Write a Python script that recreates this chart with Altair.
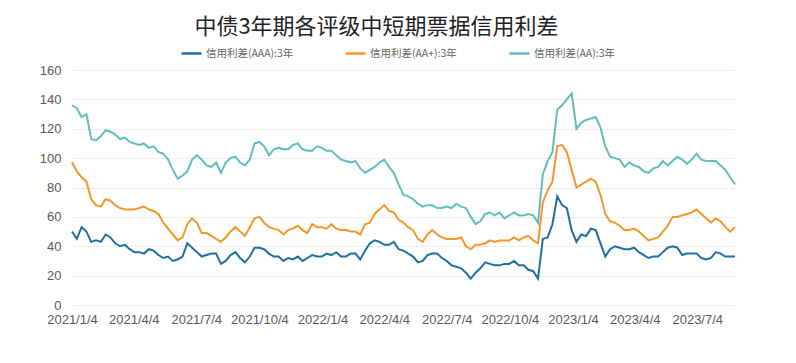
import altair as alt
import pandas as pd

# ---- data (weekly readings from the reference picture) ----
start_date = "2021-01-04"
n_points = 139

aaa = [50, 45, 53, 50, 43, 44, 43, 48, 46, 42, 40, 41, 38, 36, 36, 35, 38, 37, 34, 32,
       33, 30, 31, 33, 42, 39, 36, 33, 34, 35, 35, 28, 30, 34, 36, 32, 29, 33, 39, 39,
       38, 35, 33, 33, 30, 32, 31, 33, 30, 32, 34, 33, 33, 35, 34, 36, 33, 33, 35, 35,
       31, 37, 42, 44, 43, 41, 41, 43, 38, 37, 35, 33, 29, 30, 34, 35, 35, 32, 30, 27,
       26, 25, 22, 18, 22, 25, 29, 28, 27, 27, 28, 28, 30, 27, 27, 24, 23, 18, 45, 46,
       55, 74, 68, 66, 51, 43, 48, 47, 52, 51, 42, 33, 38, 40, 39, 38, 38, 39, 36, 34,
       32, 33, 33, 36, 39, 40, 39, 34, 35, 35, 35, 32, 31, 32, 36, 35, 33, 33, 33]

aa_plus = [97, 91, 87, 84, 72, 68, 67, 72, 71, 68, 66, 65, 65, 65, 66, 67, 65, 64, 62, 56,
           52, 48, 44, 46, 55, 59, 56, 49, 49, 47, 45, 43, 46, 50, 53, 50, 47, 53, 59, 60,
           56, 53, 52, 51, 48, 51, 52, 54, 51, 49, 55, 53, 53, 52, 55, 52, 51, 51, 50, 50,
           48, 55, 56, 62, 65, 68, 64, 63, 58, 56, 53, 51, 45, 43, 48, 51, 48, 46, 45, 45,
           45, 46, 40, 38, 41, 41, 42, 44, 43, 44, 44, 44, 46, 44, 46, 47, 44, 42, 70, 78,
           84, 108, 109, 104, 92, 80, 82, 84, 86, 84, 75, 62, 57, 56, 54, 51, 51, 52, 50, 47,
           44, 45, 46, 50, 54, 60, 60, 61, 62, 63, 65, 62, 59, 56, 59, 57, 53, 50, 53]

aa = [136, 134, 128, 130, 113, 112, 115, 119, 118, 116, 113, 114, 111, 110, 109, 110, 107, 108, 104, 103,
      99, 92, 86, 88, 91, 99, 102, 99, 95, 94, 97, 90, 97, 100, 101, 97, 95, 99, 110, 111,
      108, 102, 106, 107, 106, 106, 109, 110, 106, 105, 105, 108, 107, 105, 105, 102, 99, 98, 97, 98,
      93, 90, 92, 94, 97, 99, 94, 90, 82, 75, 74, 72, 69, 67, 68, 68, 66, 66, 67, 66,
      69, 67, 66, 60, 55, 57, 62, 63, 61, 63, 59, 61, 63, 61, 61, 62, 61, 56, 89, 98,
      104, 133, 136, 140, 144, 120, 124, 126, 127, 128, 121, 108, 101, 100, 99, 94, 97, 95, 94, 91,
      90, 93, 94, 98, 95, 98, 101, 99, 96, 99, 103, 99, 98, 98, 98, 95, 92, 87, 82]

series_names = ["信用利差(AAA):3年", "信用利差(AA+):3年", "信用利差(AA):3年"]
series_colors = ["#1f6f9f", "#f5962a", "#62bdbd"]

tick_dates = ["2021-01-04", "2021-04-04", "2021-07-04", "2021-10-04", "2022-01-04",
              "2022-04-04", "2022-07-04", "2022-10-04", "2023-01-04", "2023-04-04",
              "2023-07-04"]
y_ticks = [0, 20, 40, 60, 80, 100, 120, 140, 160]

title_text = "中债3年期各评级中短期票据信用利差"

# ---- table ----
dates = pd.date_range(start_date, periods=n_points, freq="7D")
frames = []
for order, (name, vals) in enumerate(zip(series_names, [aaa, aa_plus, aa])):
    frames.append(pd.DataFrame({"date": dates, "value": vals, "series": name, "order": order}))
df = pd.concat(frames, ignore_index=True)


def to_dt(s):
    y, m, d = (int(p) for p in s.split("-"))
    return alt.DateTime(year=y, month=m, date=d)


tick_values = [to_dt(s) for s in tick_dates]

num_font = "Liberation Sans"
cjk_font = "Noto Sans CJK SC"

chart = alt.Chart(df).mark_line(strokeWidth=2).encode(
    x=alt.X(
        "date:T",
        scale=alt.Scale(nice=False),
        axis=alt.Axis(
            values=tick_values, format="%Y/%-m/%-d", title=None, grid=False,
            domain=False, ticks=False, labelFont=num_font, labelFontSize=13,
            labelColor="#595959", labelPadding=8, labelOverlap=False, labelFlush=False,
        ),
    ),
    y=alt.Y(
        "value:Q",
        scale=alt.Scale(domain=[0, 160], nice=False),
        axis=alt.Axis(
            values=y_ticks, title=None, domain=False, ticks=False,
            labelFont=num_font, labelFontSize=13, labelColor="#595959",
            labelPadding=11, gridColor="#eeeeee", gridWidth=1,
        ),
    ),
    color=alt.Color(
        "series:N",
        scale=alt.Scale(domain=series_names, range=series_colors),
        legend=alt.Legend(
            title=None, orient="none", legendX=108, legendY=-28, direction="horizontal",
            symbolType="stroke", symbolSize=400, symbolStrokeWidth=2.5,
            labelFont=cjk_font, labelFontSize=10.5, labelColor="#666666",
            labelOffset=3, columnPadding=46, gridAlign="all", labelLimit=200,
        ),
    ),
    order="order:Q",
).properties(
    width=663,
    height=235,
    title=alt.TitleParams(
        text=title_text, font=cjk_font, fontSize=22, fontWeight="normal",
        color="#222222", anchor="middle", dx=-27, offset=3,
    ),
    autosize=alt.AutoSizeParams(type="none"),
    padding={"left": 64, "top": 62, "right": 50, "bottom": 45},
    background="white",
).configure_view(stroke=None)

chart.save("out.html", embed_options={"renderer": "svg", "actions": False})
